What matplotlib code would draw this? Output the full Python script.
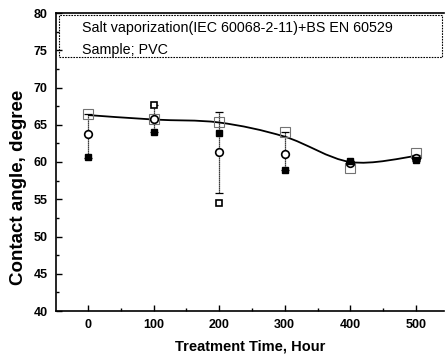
import numpy as np
import matplotlib
matplotlib.use("Agg")
import matplotlib.pyplot as plt
from matplotlib.path import Path
from matplotlib.patches import PathPatch, Rectangle

plt.rcParams['font.family'] = ['Liberation Sans', 'DejaVu Sans']

hours = [0, 100, 200, 300, 400, 500]
fit_mean = [66.3, 65.7, 65.3, 63.4, 60.0, 60.8]
box_vals = [66.4, 65.8, 65.4, 64.0, 59.2, 61.2]
circle_vals = [63.8, 65.8, 61.3, 61.1, 59.8, 60.6]
dark_vals = [60.7, 64.0, 63.9, 58.9, 60.1, 60.3]
extra_hours = [100, 200]
extra_vals = [67.6, 54.5]
err_low = [60.6, 64.0, 55.8, 58.9, 59.6, 60.2]
err_high = [66.5, 67.6, 66.7, 64.0, 60.2, 61.0]

x_ticks = [0, 100, 200, 300, 400, 500]
y_ticks = [40, 45, 50, 55, 60, 65, 70, 75, 80]
legend_lines = ["Salt vaporization(IEC 60068-2-11)+BS EN 60529", "Sample; PVC"]

fig = plt.figure(figsize=(4.45, 3.59), dpi=100)
ax = fig.add_axes([56/445, 48/359, 388/445, 298/359])
ax.set_xlim(-49, 543)
ax.set_ylim(40, 80)

# smooth curve through fitted means (Catmull-Rom -> Bezier)
xs = np.array(hours, float)
ys = np.array(fit_mean, float)
verts = [(xs[0], ys[0])]
codes = [Path.MOVETO]
n = len(xs)
for i in range(n - 1):
    p0 = (xs[i-1], ys[i-1]) if i > 0 else (xs[i], ys[i])
    p1 = (xs[i], ys[i])
    p2 = (xs[i+1], ys[i+1])
    p3 = (xs[i+2], ys[i+2]) if i + 2 < n else (xs[i+1], ys[i+1])
    c1 = (p1[0] + (p2[0]-p0[0])/6, p1[1] + (p2[1]-p0[1])/6)
    c2 = (p2[0] - (p3[0]-p1[0])/6, p2[1] - (p3[1]-p1[1])/6)
    verts += [c1, c2, p2]
    codes += [Path.CURVE4]*3
ax.add_patch(PathPatch(Path(verts, codes), fill=False, lw=1.3, color='black', zorder=3))

# error bars
ax.vlines(hours, err_low, err_high, colors='black', lw=0.9, linestyles=(0, (1, 0.6)), zorder=2)
ax.hlines(err_low, [h-6 for h in hours], [h+6 for h in hours], colors='black', lw=0.9, zorder=2)
ax.hlines(err_high, [h-6 for h in hours], [h+6 for h in hours], colors='black', lw=0.9, zorder=2)

ax.plot(hours, box_vals, ls='none', marker='s', ms=7.5, mfc='none', mec='0.45', mew=0.8, zorder=4)
ax.plot(hours, circle_vals, ls='none', marker='o', ms=5.5, mfc='white', mec='black', mew=1.2, zorder=5)
ax.plot(hours, dark_vals, ls='none', marker='s', ms=4.5, mfc='black', mec='black', mew=1, zorder=5)
ax.plot(extra_hours, extra_vals, ls='none', marker='s', ms=4.5, mfc='white', mec='black', mew=1.2, zorder=5)

ax.set_xticks(x_ticks)
ax.set_xticks([50, 150, 250, 350, 450], minor=True)
ax.set_yticks(y_ticks)
ax.set_yticks([42.5, 47.5, 52.5, 57.5, 62.5, 67.5, 72.5, 77.5], minor=True)
ax.tick_params(direction='in', which='major', length=4, width=1)
ax.tick_params(direction='in', which='minor', length=2.5, width=1)
ax.tick_params(top=False, right=False, labelsize=9, pad=6)
for lab in ax.get_xticklabels() + ax.get_yticklabels():
    lab.set_fontweight('bold')
for s in ax.spines.values():
    s.set_linewidth(1.2)
ax.spines['right'].set_visible(False)

ax.set_xlabel("Treatment Time, Hour", fontsize=10.5, fontweight='bold', labelpad=6)
ax.set_ylabel("Contact angle, degree", fontsize=13.5, fontweight='bold')
ax.yaxis.set_label_coords(-0.076, 0.415)

# legend box
ax.add_patch(Rectangle((-45, 74.1), 585, 5.6, fill=False, lw=0.8, ls=(0, (1.5, 1)), ec='black', zorder=6))
ax.text(-9, 78.0, legend_lines[0], fontsize=10.3, va='center', ha='left')
ax.text(-9, 75.0, legend_lines[1], fontsize=10.3, va='center', ha='left')

fig.savefig("out.png", dpi=100)
